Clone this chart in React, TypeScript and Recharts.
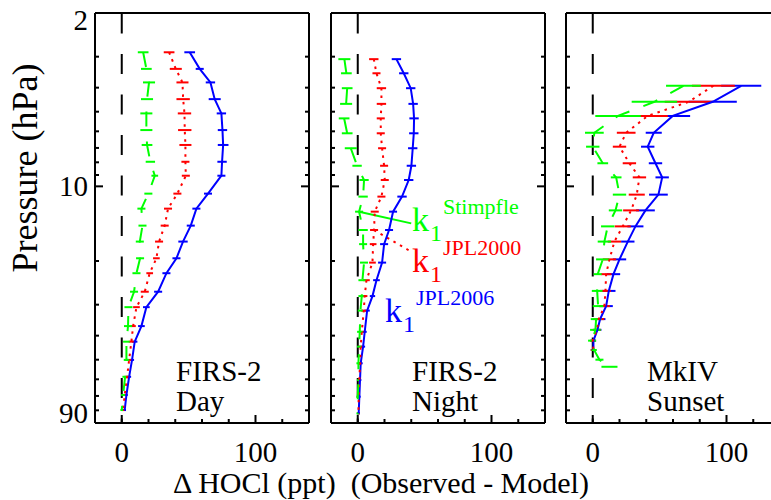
import React from "react";
import { ComposedChart, Scatter, ErrorBar, XAxis, YAxis, ReferenceLine } from "recharts";

// pressure levels (hPa)
const dayLevels = [2.88, 3.36, 3.81, 4.45, 5.08, 5.93, 6.81, 7.96, 9.06, 10.7, 12.3, 14.4, 16.7, 19.5, 22.4, 26.6, 30.7, 36.6, 42.3, 50.1, 58.6, 69.4, 79.8];
const nightLevels = [3.07, 3.5, 4.02, 4.65, 5.32, 6.11, 7.02, 8.26, 9.43, 11.0, 12.65, 15.0, 17.1, 20.3, 23.9, 27.7, 31.7, 38.6, 44.3, 51.7, 60.4, 70.5, 82.3];
const mkivLevels = [3.93, 4.56, 5.2, 6.08, 6.92, 8.07, 9.2, 10.8, 12.5, 14.5, 16.7, 19.7, 22.6, 26.4, 30.4, 34.3, 37.9, 41.9, 45.7, 50.0, 53.4];

// FIRS-2 day, delta HOCl (ppt)
const dayJpl2006 = [50.8, 58.3, 66.3, 69.5, 74.5, 75.3, 75.8, 75.0, 74.5, 64.5, 55.8, 51.6, 45.8, 40.9, 33.4, 27.2, 18.4, 14.7, 9.7, 7.7, 5.5, 3.5, 2.2];
const dayJpl2006Err = [4, 3, 3.5, 4.5, 3.5, 3.5, 4, 3.5, 3, 3, 3, 3, 3.5, 3, 3, 3, 2.5, 2.5, 2, 1.5, 1.5, 1, 1];
const dayJpl2000 = [35.4, 40.4, 45.4, 45.9, 46.9, 47.1, 47.6, 47.6, 47.9, 41.6, 34.6, 32.1, 27.9, 25.9, 20.9, 17.2, 11.0, 8.5, 7.2, 5.5, 4.0, 2.2, 1.0];
const dayJpl2000Err = [4, 4.5, 4.5, 5, 5, 5, 4.5, 3, 3, 3, 3, 3, 3, 2.5, 2.5, 3, 2.5, 2, 2, 2, 1.5, 1, 1];
const dayStimpfle = [16, 18.4, 20.4, 18.9, 18.4, 18.4, 18.9, 21.4, 24.7, 19.9, 14.7, 15.5, 13.5, 13.7, 11.0, 9.2, 5.0, 4.7, 3.5, 3.5, 2.5, 1.0, 0.0];
const dayStimpfleErr = [4, 4, 4.5, 4.5, 4.5, 4.5, 4, 3.5, 2.5, 3, 3, 3, 3, 3, 3, 3, 3, 3, 2.5, 2, 2, 1.5, 1];

// FIRS-2 night
const nightJpl2006 = [28.9, 34.4, 39.6, 41.4, 42.1, 41.9, 41.1, 40.1, 38.1, 33.1, 26.4, 23.4, 19.7, 18.2, 14.0, 11.0, 7.0, 5.2, 4.0, 2.2, 1.7, 1.2, 0.7];
const nightJpl2006Err = [3.5, 3.5, 3.5, 3.5, 3.5, 3.5, 3.5, 3.5, 3.5, 3.5, 3, 3, 3, 3, 2.5, 2, 2, 1.5, 1.5, 1.5, 1, 1, 1];
const nightJpl2000 = [12.0, 14.0, 17.7, 17.7, 17.2, 17.2, 18.2, 19.7, 20.2, 17.7, 12.7, 12.2, 11.5, 11.0, 6.5, 5.2, 4.5, 3.0, 2.2, 1.7, 1.2, 0.7, 0.5];
const nightJpl2000Err = [3.5, 3, 3.5, 3.5, 3, 3, 3, 3, 3, 3, 3, 3, 2.5, 2.5, 2.5, 2, 2, 1.5, 1.5, 1.5, 1, 1, 1];
const nightStimpfle = [-10.0, -8.5, -7.9, -8.7, -10.2, -7.9, -5.2, -0.5, 4.7, 4.0, 1.0, 4.0, 4.0, 4.7, 3.5, 3.0, 2.0, 1.5, 1.0, 0.5, 0.5, 0, 0];
const nightStimpfleErr = [4.5, 4, 4, 4.5, 4, 4, 4.5, 3.5, 3.5, 3.5, 3, 3.5, 3, 3, 3, 2.5, 2, 2, 1.5, 1.5, 1, 1, 1];

// MkIV sunset
const mkivJpl2006 = [111, 89.7, 59.8, 45.6, 41.1, 46.9, 51.9, 49.1, 39.4, 31.9, 26.2, 20, 15.5, 12, 10, 5.5, 3.5, 0.5, 0.5];
const mkivJpl2006Err = [15, 18, 13, 6, 5, 5, 5, 7, 7, 6, 5, 5, 5, 5, 5, 4, 3, 2, 2];
const mkivJpl2000 = [90.2, 71.8, 41.1, 25, 20, 27.4, 34.9, 32.9, 28.7, 22.4, 16.2, 12.5, 10, 9.5, 8.7, 4.5, 3, 0, 0.5];
const mkivJpl2000Err = [16, 18, 15, 7, 5, 5, 5, 6, 6, 6, 5, 5, 4, 4, 4, 4, 3, 2, 2];
const mkivStimpfle = [67.8, 46.1, 18.9, 1.2, 0, 7.5, 17.5, 20, 17, 11.2, 8.7, 7.5, 3.7, 3.3, 4, 2.5, 2, -0.5, 1, 5, 12.5];
const mkivStimpfleErr = [13, 17, 17, 7, 5, 4, 4, 5, 5, 5, 5, 5, 3, 4, 4, 4, 4, 3, 2, 3, 6];

const xTicks = [0, 20, 40, 60, 80, 100, 120];
const xLabels = [0, 100];
const pTicks = [2, 3, 4, 5, 6, 7, 8, 9, 10, 20, 30, 40, 50, 60, 70, 80, 90];
const pLabels = [2, 10, 90];

const BLUE = "#0000ff";
const RED = "#ff0000";
const GREEN = "#00ff00";
const FONT = "'Liberation Serif', 'Times New Roman', serif";

type Row = { p: number; v: number; e: number };

function rows(levels: number[], values: number[], errors: number[]): Row[] {
  return values.map((v, i) => ({ p: levels[i], v, e: errors[i] }));
}

const noDot = () => <g />;

// axes are 1px wide/high, so tick x/y below sit on the frame line
function bottomTick(props: any) {
  const { x, y, payload } = props;
  const major = xLabels.includes(payload.value);
  return (
    <g>
      <line x1={x} x2={x} y1={y} y2={y - (major ? 8 : 4)} stroke="#000" strokeWidth={2} />
      {major && (
        <text x={x} y={y + 39} textAnchor="middle" fontFamily={FONT} fontSize={29} fill="#000">
          {payload.value}
        </text>
      )}
    </g>
  );
}

function topTick(props: any) {
  const { x, y, payload } = props;
  const major = xLabels.includes(payload.value);
  return <line x1={x} x2={x} y1={y} y2={y + (major ? 8 : 4)} stroke="#000" strokeWidth={2} />;
}

function leftTick(props: any, showLabel: boolean) {
  const { x, y, payload } = props;
  const major = payload.value === 10;
  const dy: Record<number, number> = { 2: 17, 10: 10, 90: 0 };
  return (
    <g>
      <line x1={x} x2={x + (major ? 8 : 4)} y1={y} y2={y} stroke="#000" strokeWidth={2} />
      {showLabel && pLabels.includes(payload.value) && (
        <text x={x - 7} y={y + dy[payload.value]} textAnchor="end" fontFamily={FONT} fontSize={29} fill="#000">
          {payload.value}
        </text>
      )}
    </g>
  );
}

function rightTick(props: any) {
  const { x, y, payload } = props;
  const major = payload.value === 10;
  return <line x1={x} x2={x - (major ? 8 : 4)} y1={y} y2={y} stroke="#000" strokeWidth={2} />;
}

interface Series {
  values: number[];
  errors: number[];
  color: string;
  dash?: string;
}

interface PanelProps {
  left: number;
  levels: number[];
  series: Series[];
  showY: boolean;
  children?: React.ReactNode;
}

const axisLine = { stroke: "#000", strokeWidth: 2 };

function Panel({ left, levels, series, showY, children }: PanelProps) {
  return (
    <div style={{ position: "absolute", left: left - 75, top: 0 }}>
      <ComposedChart width={309} height={500} margin={{ top: 12, right: 19, bottom: 76, left: 74 }}>
        <XAxis xAxisId="b" type="number" dataKey="v" domain={[-20, 140]} ticks={xTicks} interval={0}
          allowDataOverflow height={1} tickSize={0} tickMargin={0} tickLine={false} axisLine={axisLine} tick={bottomTick} />
        <XAxis xAxisId="t" orientation="top" type="number" domain={[-20, 140]} ticks={xTicks} interval={0}
          allowDataOverflow height={1} tickSize={0} tickMargin={0} tickLine={false} axisLine={axisLine} tick={topTick} />
        <YAxis yAxisId="l" type="number" dataKey="p" scale="log" domain={[2, 90]} reversed ticks={pTicks} interval={0}
          allowDataOverflow width={1} tickSize={0} tickMargin={0} tickLine={false} axisLine={axisLine}
          tick={(p: any) => leftTick(p, showY)} />
        <YAxis yAxisId="r" orientation="right" type="number" scale="log" domain={[2, 90]} reversed ticks={pTicks} interval={0}
          allowDataOverflow width={1} tickSize={0} tickMargin={0} tickLine={false} axisLine={axisLine} tick={rightTick} />
        <ReferenceLine xAxisId="b" yAxisId="l" x={0} stroke="#000" strokeWidth={2} strokeDasharray="20 20.5"
          strokeDashoffset={15.5} />
        {series.map((s, i) => (
          <Scatter key={i} xAxisId="b" yAxisId="l" data={rows(levels, s.values, s.errors)} fill={s.color}
            shape={noDot} isAnimationActive={false}
            line={{ stroke: s.color, strokeWidth: 2, strokeDasharray: s.dash, fill: "none" }}>
            <ErrorBar dataKey="e" direction="x" width={0} stroke={s.color} strokeWidth={2} isAnimationActive={false} />
          </Scatter>
        ))}
        {children}
      </ComposedChart>
    </div>
  );
}

const daySeries: Series[] = [
  { values: dayJpl2006, errors: dayJpl2006Err, color: BLUE },
  { values: dayJpl2000, errors: dayJpl2000Err, color: RED, dash: "2.5 5" },
  { values: dayStimpfle, errors: dayStimpfleErr, color: GREEN, dash: "15 15" },
];
const nightSeries: Series[] = [
  { values: nightJpl2006, errors: nightJpl2006Err, color: BLUE },
  { values: nightJpl2000, errors: nightJpl2000Err, color: RED, dash: "2.5 5" },
  { values: nightStimpfle, errors: nightStimpfleErr, color: GREEN, dash: "15 15" },
];
const mkivSeries: Series[] = [
  { values: mkivJpl2006, errors: mkivJpl2006Err, color: BLUE },
  { values: mkivJpl2000, errors: mkivJpl2000Err, color: RED, dash: "2.5 5" },
  { values: mkivStimpfle, errors: mkivStimpfleErr, color: GREEN, dash: "15 15" },
];

const panelLefts = [95, 331, 566];

function PanelLabel({ x, top, bottom }: { x: number; top: string; bottom: string }) {
  return (
    <g fontFamily={FONT} fontSize={29} fill="#000">
      <text x={x} y={381}>{top}</text>
      <text x={x} y={411}>{bottom}</text>
    </g>
  );
}

function RateLabel({ x, y, color, tag }: { x: number; y: number; color: string; tag: string }) {
  return (
    <g fontFamily={FONT} fill={color}>
      <text x={x} y={y} fontSize={34}>k</text>
      <text x={x + 18} y={y + 10} fontSize={24}>1</text>
      <text x={x + 31} y={y - 17} fontSize={22}>{tag}</text>
    </g>
  );
}

export default function App() {
  return (
    <div style={{ position: "absolute", left: 0, top: 0, width: 771, height: 500, overflow: "hidden", background: "#fff" }}>
      <Panel left={panelLefts[0]} levels={dayLevels} series={daySeries} showY />
      <Panel left={panelLefts[1]} levels={nightLevels} series={nightSeries} showY={false}>
        <ReferenceLine xAxisId="b" yAxisId="l" ifOverflow="visible" stroke={GREEN} strokeWidth={2}
          segment={[{ x: 1, y: 12.65 }, { x: 40, y: 14.1 }]} />
        <ReferenceLine xAxisId="b" yAxisId="l" ifOverflow="visible" stroke={RED} strokeWidth={2} strokeDasharray="2.5 5"
          segment={[{ x: 12.2, y: 15.0 }, { x: 38, y: 18.1 }]} />
      </Panel>
      <Panel left={panelLefts[2]} levels={mkivLevels} series={mkivSeries} showY={false} />
      <svg width={771} height={500} style={{ position: "absolute", left: 0, top: 0, pointerEvents: "none" }}>
        <PanelLabel x={panelLefts[0] + 81} top="FIRS-2" bottom="Day" />
        <PanelLabel x={panelLefts[1] + 81} top="FIRS-2" bottom="Night" />
        <PanelLabel x={panelLefts[2] + 81} top="MkIV" bottom="Sunset" />
        <RateLabel x={412} y={231} color={GREEN} tag="Stimpfle" />
        <RateLabel x={412} y={272} color={RED} tag="JPL2000" />
        <RateLabel x={385} y={322} color={BLUE} tag="JPL2006" />
        <text x={37} y={168} transform="rotate(-90 37 168)" textAnchor="middle" fontFamily={FONT} fontSize={36} fill="#000">
          Pressure (hPa)
        </text>
        <text x={381} y={493} textAnchor="middle" fontFamily={FONT} fontSize={30} fill="#000" style={{ whiteSpace: "pre" }}>
          {"Δ HOCl (ppt)  (Observed - Model)"}
        </text>
      </svg>
    </div>
  );
}
